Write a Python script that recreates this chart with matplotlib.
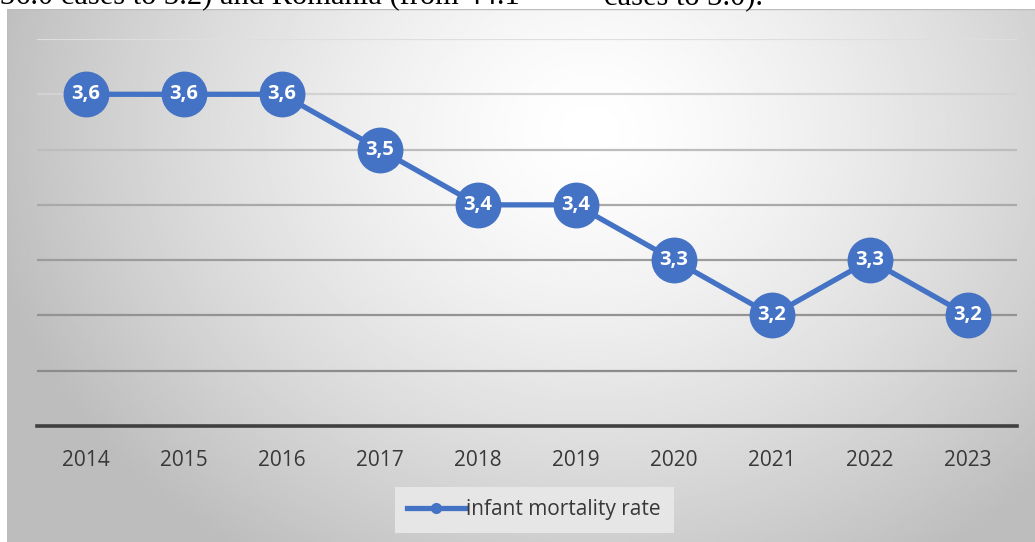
import numpy as np
import matplotlib
matplotlib.use("Agg")
import matplotlib.pyplot as plt
from matplotlib.lines import Line2D
from matplotlib.patches import Rectangle

# ---- data ----
years = ["2014", "2015", "2016", "2017", "2018", "2019", "2020", "2021", "2022", "2023"]
rates = [3.6, 3.6, 3.6, 3.5, 3.4, 3.4, 3.3, 3.2, 3.3, 3.2]
point_labels = ["3,6", "3,6", "3,6", "3,5", "3,4", "3,4", "3,3", "3,2", "3,3", "3,2"]
series_name = "infant mortality rate"
grid_values = [3.1, 3.2, 3.3, 3.4, 3.5, 3.6, 3.7]
header_left = "36.0 cases to 3.2) and Romania (from 44.1"
header_right = "cases to 3.0)."

# ---- styles ----
W, H = 1035, 542
BLUE = "#4472C4"
grid_colors = ["#8c8c8c", "#939393", "#9c9c9c", "#a9a9a9", "#bdbdbd", "#d2d2d2", "#dedede"]
FONT = "Open Sans"

fig = plt.figure(figsize=(W / 100, H / 100), dpi=100)
fig.patch.set_facecolor("white")

# background gradient of chart area
bg = fig.add_axes([7 / W, 0, 1 - 7 / W, (H - 9) / H])
bg.set_axis_off()
xs = np.linspace(7, 1035, 500)
ys = np.linspace(9, 542, 260)
X, Y = np.meshgrid(xs, ys)
r = np.sqrt(((X - 590) / 600) ** 2 + ((Y - 130) / 500) ** 2)
v = np.clip(1 - 0.25 * r ** 1.4, 0.74, 1)
bg.imshow(v, cmap="gray", vmin=0, vmax=1, extent=[7, 1035, 542, 9],
          aspect="auto", interpolation="bilinear")
bg.set_xlim(7, 1035)
bg.set_ylim(542, 9)
bg.add_patch(Rectangle((7, 9), 1040, 540, fill=False, edgecolor="#bdbdbd", lw=1.0))

# main axes
ax = fig.add_axes([37 / W, (H - 426) / H, 980 / W, 387 / H])
ax.patch.set_alpha(0)
x = np.arange(len(years))
ax.set_xlim(-0.5, len(years) - 0.5)
ax.set_ylim(3.0, 3.7)
for gv, gc in zip(grid_values, grid_colors):
    ax.axhline(gv, color=gc, lw=1.6, zorder=1)
for s in ["top", "right", "left"]:
    ax.spines[s].set_visible(False)
ax.spines["bottom"].set_color("#404040")
ax.spines["bottom"].set_linewidth(2.6)
ax.set_yticks([])
ax.set_xticks(x)
ax.set_xticklabels(years, fontsize=15, color="#383838", family=FONT)
ax.tick_params(axis="x", length=0, pad=17)

ax.plot(x, rates, color=BLUE, lw=3.8, marker="o", markersize=32,
        markerfacecolor=BLUE, markeredgecolor=BLUE, zorder=3, clip_on=False)
for xi, yi, lab in zip(x, rates, point_labels):
    ax.text(xi, yi, lab, ha="center", va="center", color="white",
            fontsize=14.5, fontweight="bold", family=FONT, zorder=4)

handle = Line2D([], [], color=BLUE, lw=3.8, marker="o", markersize=7)
leg = fig.legend([handle], [series_name], loc="center",
                 bbox_to_anchor=(534 / W, (H - 510) / H), bbox_transform=fig.transFigure,
                 frameon=True, fancybox=False, handlelength=2.8, handletextpad=0.05,
                 borderpad=0.6, borderaxespad=0, prop={"family": FONT, "size": 15})
leg.get_frame().set_facecolor("#e6e6e6")
leg.get_frame().set_edgecolor("none")
leg.get_frame().set_alpha(1)
for t in leg.get_texts():
    t.set_color("#383838")

# header text fragment (cut off at the top edge, as in the source)
fig.text(0, 1 - 4.0 / H, header_left, ha="left", va="baseline",
         family="Liberation Serif", fontsize=22, color="black")
fig.text(763 / W, 1 - 4.0 / H, header_right, ha="right", va="baseline",
         family="Liberation Serif", fontsize=22, color="black")

fig.savefig("out.png", dpi=100)
